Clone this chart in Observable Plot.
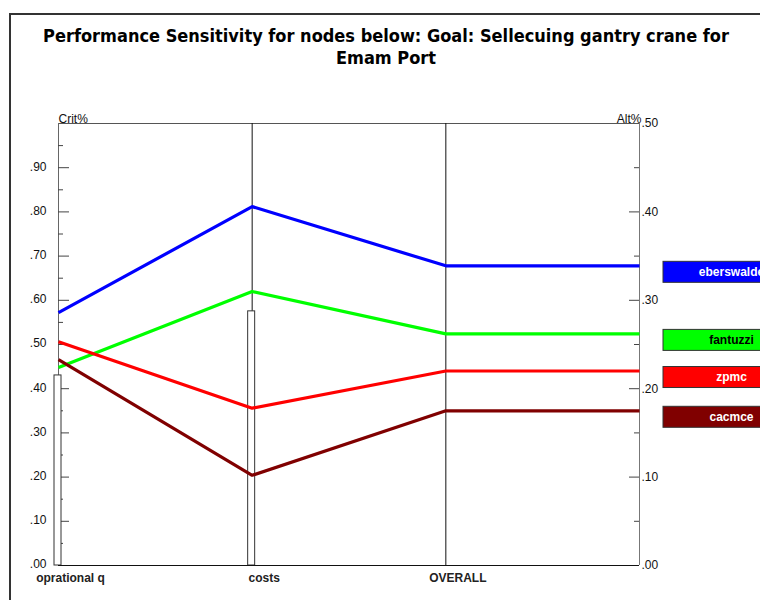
<!DOCTYPE html>
<html>
<head>
<meta charset="utf-8">
<script src="https://cdn.jsdelivr.net/npm/d3@7"></script>
<script src="https://cdn.jsdelivr.net/npm/@observablehq/plot@0.6"></script>
<style>
  html, body { margin: 0; padding: 0; background: #fff; width: 760px; height: 600px; overflow: hidden; }
  #frame { position: absolute; left: 9px; top: 13px; width: 800px; height: 650px;
           border-left: 2px solid #333; border-top: 2px solid #333; }
  #title { position: absolute; left: 11px; top: 25px; width: 750px; text-align: center;
           font-family: "DejaVu Sans Condensed", "DejaVu Sans", sans-serif; font-weight: bold;
           font-size: 18px; line-height: 22px; color: #000; }
  #chart { position: absolute; left: 0; top: 80px; }
</style>
</head>
<body>
<div id="frame"></div>
<div id="title">Performance Sensitivity for nodes below: Goal: Sellecuing gantry crane for<br>Emam Port</div>
<div id="chart"></div>
<script>
// ---- data ----
const categories = ["oprational q", "costs", "OVERALL"];
const critWeights = [0.43, 0.575];           // Crit% bars at the first two nodes
const seriesNames = ["eberswalde", "fantuzzi", "zpmc", "cacmce"];
const seriesColors = ["#0000ff", "#00ff00", "#ff0000", "#800000"];
const labelColors = ["#ffffff", "#000000", "#ffffff", "#ffffff"];
const eberswalde = [0.286, 0.406, 0.339];    // Alt% at each node
const fantuzzi   = [0.224, 0.310, 0.262];
const zpmc       = [0.253, 0.178, 0.220];
const cacmce     = [0.233, 0.102, 0.175];
const critTicks = [0, 0.1, 0.2, 0.3, 0.4, 0.5, 0.6, 0.7, 0.8, 0.9];
const critMinor = [0.05, 0.15, 0.25, 0.35, 0.45, 0.55, 0.65, 0.75, 0.85, 0.95];
const altTicks = [0, 0.1, 0.2, 0.3, 0.4, 0.5];
const altMinor = [0.05, 0.15, 0.25, 0.35, 0.45];

// ---- build tables ----
const seriesValues = [eberswalde, fantuzzi, zpmc, cacmce];
const lineData = [];
seriesValues.forEach((vals, s) => {
  vals.forEach((v, i) => lineData.push({series: seriesNames[s], i, v}));
  // extend the OVERALL value to the right axis
  lineData.push({series: seriesNames[s], i: categories.length, v: vals[vals.length - 1]});
});
const legendData = seriesValues.map((vals, s) => ({
  name: seriesNames[s], color: seriesColors[s], label: labelColors[s], v: vals[vals.length - 1]
}));
const fmt = d => d3.format(".2f")(d).replace(/^0/, "");
const altToY = v => v * 2;   // Alt% axis (0–.50) spans the same height as Crit% (0–1)
const endIdx = categories.length;

const chart = Plot.plot({
  width: 760,
  height: 520,
  marginTop: 43,
  marginBottom: 35,
  marginLeft: 58,
  marginRight: 121,
  x: {type: "linear", domain: [0, endIdx], axis: null},
  y: {domain: [0, 1], axis: null},
  style: {fontFamily: "'Liberation Sans', Arial, sans-serif", fontSize: "12px", background: "transparent", color: "#111"},
  marks: [
    // frame lines
    Plot.ruleY([1], {stroke: "#555"}),
    Plot.ruleX([0], {stroke: "#666"}),
    Plot.ruleX([endIdx], {stroke: "#777"}),
    Plot.ruleX([1, 2], {stroke: "#111"}),
    // left ticks (inward)
    Plot.ruleY(critTicks.slice(1), {x1: 0, x2: 0, insetRight: -11, stroke: "#444"}),
    Plot.ruleY(critMinor, {x1: 0, x2: 0, insetRight: -5, stroke: "#444"}),
    // right ticks (inward)
    Plot.ruleY(altTicks.slice(1, -1), {y: altToY, x1: endIdx, x2: endIdx, insetLeft: -10, stroke: "#444"}),
    Plot.ruleY(altMinor, {y: altToY, x1: endIdx, x2: endIdx, insetLeft: -5, stroke: "#444"}),
    // criteria weight bars
    Plot.rect(critWeights, {x1: (d, i) => i, x2: (d, i) => i, y1: 0, y2: d => d,
      insetLeft: -4, insetRight: -3, fill: "white", stroke: "#333", strokeWidth: 1}),
    Plot.ruleY([0], {stroke: "#111"}),
    // series lines
    Plot.line(lineData, {x: "i", y: d => altToY(d.v), z: "series",
      stroke: d => seriesColors[seriesNames.indexOf(d.series)], strokeWidth: 3.2,
      strokeLinejoin: "miter", strokeLinecap: "butt"}),
    // left axis labels
    Plot.text(critTicks, {frameAnchor: "left", y: d => d, text: fmt, textAnchor: "end", dx: -12, dy: -1}),
    // right axis labels
    Plot.text(altTicks, {frameAnchor: "right", y: altToY, text: fmt, textAnchor: "start", dx: 2}),
    // axis titles
    Plot.text(["Crit%"], {frameAnchor: "top-left", textAnchor: "start", lineAnchor: "bottom", dy: -1}),
    Plot.text(["Alt%"], {frameAnchor: "top-right", textAnchor: "end", lineAnchor: "bottom", dy: -1, dx: 2}),
    // category labels
    Plot.text(categories, {x: (d, i) => i, frameAnchor: "bottom", lineAnchor: "top", dy: 8, dx: 12,
      fontWeight: "bold", fontSize: 12, fill: "#222"}),
    // legend boxes at the OVERALL values
    Plot.rect(legendData, {x1: endIdx, x2: endIdx, y1: d => altToY(d.v), y2: d => altToY(d.v),
      insetLeft: 24, insetRight: -170, insetTop: -4, insetBottom: -17,
      fill: d => d.color, stroke: "#333", strokeWidth: 1}),
    Plot.text(legendData, {x: endIdx, y: d => altToY(d.v), text: "name", dx: 92, dy: 6,
      fill: d => d.label, fontWeight: "bold", fontSize: 12, letterSpacing: 0.5})
  ]
});
document.getElementById("chart").appendChild(chart);
</script>
</body>
</html>
